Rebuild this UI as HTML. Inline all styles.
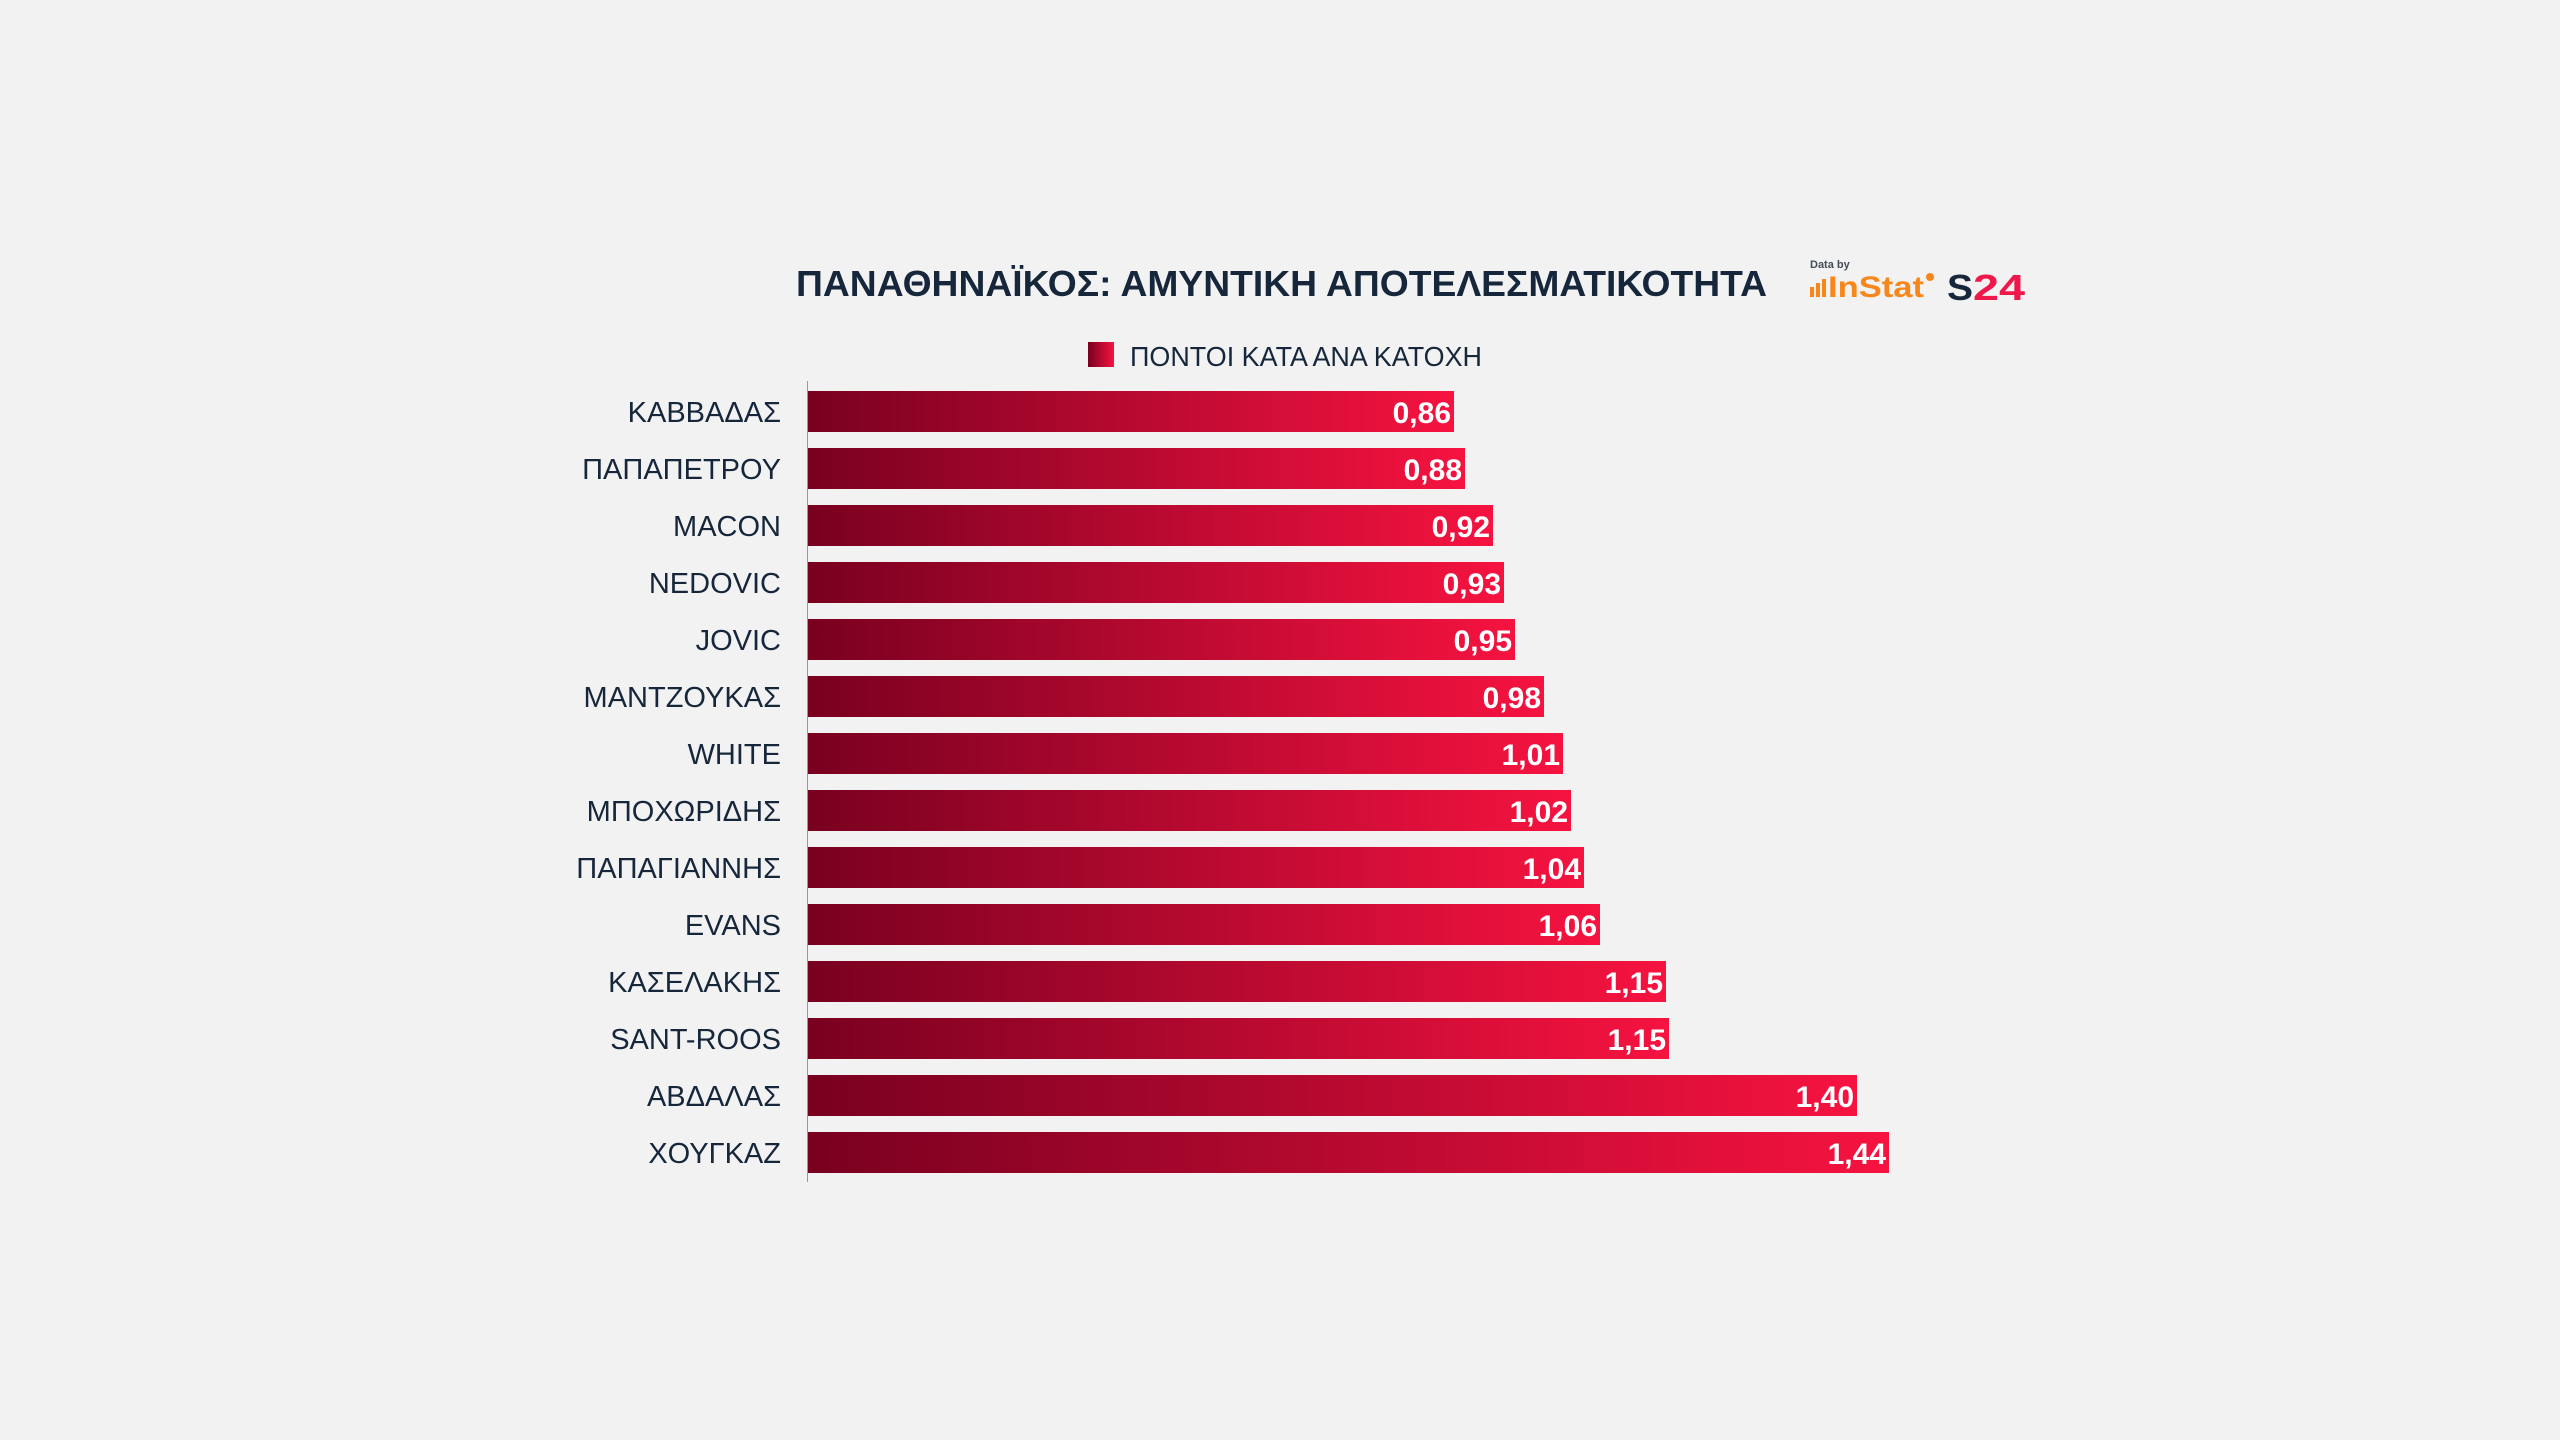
<!DOCTYPE html>
<html><head><meta charset="utf-8"><style>
html,body{margin:0;padding:0;background:#f2f2f2;}
svg{display:block;}
</style></head><body>
<svg width="2560" height="1440" viewBox="0 0 2560 1440" xmlns="http://www.w3.org/2000/svg" font-family="Liberation Sans, DejaVu Sans, sans-serif">
<defs>
<linearGradient id="g" x1="0" y1="0" x2="1" y2="0">
<stop offset="0" stop-color="#790020"/>
<stop offset="1" stop-color="#f61340"/>
</linearGradient>
</defs>
<rect width="2560" height="1440" fill="#f2f2f2"/>
<text x="796" y="296" font-size="36" font-weight="bold" fill="#16263b" textLength="971" lengthAdjust="spacingAndGlyphs">ΠΑΝΑΘΗΝΑΪΚΟΣ: ΑΜΥΝΤΙΚΗ ΑΠΟΤΕΛΕΣΜΑΤΙΚΟΤΗΤΑ</text>
<text x="1810" y="268" font-size="11" font-weight="bold" fill="#444c58">Data by</text>
<rect x="1810" y="287" width="4" height="10" fill="#f7861b"/>
<rect x="1816" y="283" width="4" height="14" fill="#f7861b"/>
<rect x="1822" y="279" width="4" height="18" fill="#f7861b"/>
<text x="1828" y="297" font-size="30" font-weight="bold" fill="#f7861b" textLength="96" lengthAdjust="spacingAndGlyphs">InStat</text>
<circle cx="1930" cy="277" r="4" fill="#f7861b"/>
<text x="1947" y="300" font-size="36" font-weight="bold" fill="#16263b" textLength="26" lengthAdjust="spacingAndGlyphs">S</text>
<text x="1973" y="300" font-size="36" font-weight="bold" fill="#f0184a" textLength="52" lengthAdjust="spacingAndGlyphs">24</text>
<rect x="1088" y="342" width="26" height="25" fill="url(#g)"/>
<text x="1130" y="366" font-size="28" fill="#16263b" textLength="352" lengthAdjust="spacingAndGlyphs">ΠΟΝΤΟΙ ΚΑΤΑ ΑΝΑ ΚΑΤΟΧΗ</text>
<line x1="807.5" y1="381" x2="807.5" y2="1182" stroke="#999" stroke-width="1"/>
<g font-size="29" fill="#16263b" text-anchor="end">
<text x="781" y="422">ΚΑΒΒΑΔΑΣ</text>
<text x="781" y="479">ΠΑΠΑΠΕΤΡΟΥ</text>
<text x="781" y="536">MACON</text>
<text x="781" y="593">NEDOVIC</text>
<text x="781" y="650">JOVIC</text>
<text x="781" y="707">ΜΑΝΤΖΟΥΚΑΣ</text>
<text x="781" y="764">WHITE</text>
<text x="781" y="821">ΜΠΟΧΩΡΙΔΗΣ</text>
<text x="781" y="878">ΠΑΠΑΓΙΑΝΝΗΣ</text>
<text x="781" y="935">EVANS</text>
<text x="781" y="992">ΚΑΣΕΛΑΚΗΣ</text>
<text x="781" y="1049">SANT-ROOS</text>
<text x="781" y="1106">ΑΒΔΑΛΑΣ</text>
<text x="781" y="1163">ΧΟΥΓΚΑΖ</text>
</g>
<g fill="url(#g)">
<rect x="808" y="391" width="646" height="41"/>
<rect x="808" y="448" width="657" height="41"/>
<rect x="808" y="505" width="685" height="41"/>
<rect x="808" y="562" width="696" height="41"/>
<rect x="808" y="619" width="707" height="41"/>
<rect x="808" y="676" width="736" height="41"/>
<rect x="808" y="733" width="755" height="41"/>
<rect x="808" y="790" width="763" height="41"/>
<rect x="808" y="847" width="776" height="41"/>
<rect x="808" y="904" width="792" height="41"/>
<rect x="808" y="961" width="858" height="41"/>
<rect x="808" y="1018" width="861" height="41"/>
<rect x="808" y="1075" width="1049" height="41"/>
<rect x="808" y="1132" width="1081" height="41"/>
</g>
<g font-size="30" font-weight="bold" fill="#ffffff" text-anchor="end">
<text x="1451" y="423">0,86</text>
<text x="1462" y="480">0,88</text>
<text x="1490" y="537">0,92</text>
<text x="1501" y="594">0,93</text>
<text x="1512" y="651">0,95</text>
<text x="1541" y="708">0,98</text>
<text x="1560" y="765">1,01</text>
<text x="1568" y="822">1,02</text>
<text x="1581" y="879">1,04</text>
<text x="1597" y="936">1,06</text>
<text x="1663" y="993">1,15</text>
<text x="1666" y="1050">1,15</text>
<text x="1854" y="1107">1,40</text>
<text x="1886" y="1164">1,44</text>
</g>
</svg>
</body></html>
